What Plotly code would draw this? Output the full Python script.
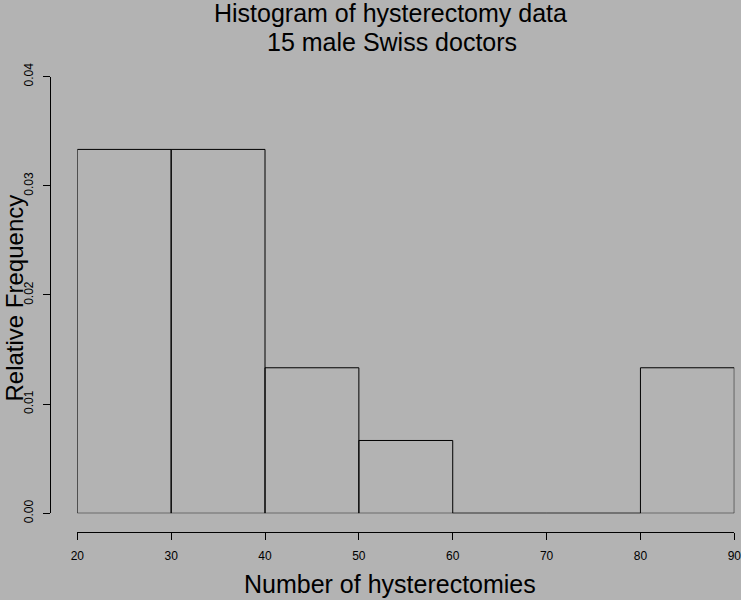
import plotly.graph_objects as go

# Data: histogram of hysterectomy counts (15 male Swiss doctors)
bin_edges = [20, 30, 40, 50, 60, 70, 80, 90]
rel_freq = [0.03333, 0.03333, 0.01333, 0.00667, 0.0, 0.0, 0.01333]
x_ticks = [20, 30, 40, 50, 60, 70, 80, 90]
y_ticks = [0.00, 0.01, 0.02, 0.03, 0.04]

title_line1 = "Histogram of hysterectomy data"
title_line2 = "15 male Swiss doctors"
x_title = "Number of hysterectomies"
y_title = "Relative Frequency"

W, H = 741, 600
BG = "#B3B3B3"
FONT = "Liberation Sans, Arial, Helvetica, sans-serif"

# build rectangle outlines from bins
xs, ys = [], []
for i, h in enumerate(rel_freq):
    l, r = bin_edges[i], bin_edges[i + 1]
    xs += [l, l, r, r, l, None]
    ys += [0, h, h, 0, 0, None]

fig = go.Figure()
fig.add_trace(go.Scatter(x=xs, y=ys, mode="lines",
                         line=dict(color="black", width=1),
                         hoverinfo="skip", showlegend=False,
                         cliponaxis=False))

# pixel geometry
x_left_px, x_right_px = 77.3, 734.3
y_top_px, y_bot_px = 76.6, 513.3
xaxis_line_px = 531.7
yaxis_line_px = 50.3

fig.update_layout(
    width=W, height=H,
    paper_bgcolor=BG, plot_bgcolor=BG,
    margin=dict(l=0, r=0, t=0, b=0, pad=0, autoexpand=False),
    showlegend=False,
    font=dict(family=FONT, color="black"),
    xaxis=dict(
        domain=[x_left_px / W, x_right_px / W],
        range=[bin_edges[0], bin_edges[-1]],
        anchor="free", position=(H - xaxis_line_px) / H,
        showline=True, linecolor="black", linewidth=1,
        ticks="outside", ticklen=7, tickwidth=1, tickcolor="black",
        tickvals=x_ticks, ticktext=[str(v) for v in x_ticks],
        tickfont=dict(size=12, family=FONT, color="black"),
        ticklabelstandoff=6, automargin=False, ticklabeloverflow="allow",
        showgrid=False, zeroline=False, fixedrange=True,
    ),
    yaxis=dict(
        domain=[(H - y_bot_px) / H, (H - y_top_px) / H],
        range=[y_ticks[0], y_ticks[-1]],
        anchor="free", position=yaxis_line_px / W,
        showline=True, linecolor="black", linewidth=1,
        ticks="outside", ticklen=7, tickwidth=1, tickcolor="black",
        tickvals=y_ticks, ticktext=["%.2f" % v for v in y_ticks],
        tickangle=-90,
        tickfont=dict(size=12, family=FONT, color="black"),
        ticklabelstandoff=6, automargin=False, ticklabeloverflow="allow",
        showgrid=False, zeroline=False, fixedrange=True,
    ),
    annotations=[
        dict(text=title_line1, x=390 / W, y=1 - 13 / H, xref="paper", yref="paper",
             xanchor="center", yanchor="middle", showarrow=False, borderpad=0,
             font=dict(size=25, family=FONT, color="black")),
        dict(text=title_line2, x=392 / W, y=1 - 42 / H, xref="paper", yref="paper",
             xanchor="center", yanchor="middle", showarrow=False, borderpad=0,
             font=dict(size=25, family=FONT, color="black")),
        dict(text=x_title, x=390 / W, y=1 - 584 / H, xref="paper", yref="paper",
             xanchor="center", yanchor="middle", showarrow=False, borderpad=0,
             font=dict(size=25, family=FONT, color="black")),
        dict(text=y_title, x=0, y=1 - 298 / H, xref="paper", yref="paper",
             xanchor="left", yanchor="middle", showarrow=False, textangle=-90,
             borderpad=0,
             font=dict(size=24, family=FONT, color="black")),
    ],
)

fig.write_html(
    "out.html",
    config={"responsive": False, "displayModeBar": False},
    post_script="document.body.style.margin='0';document.body.style.overflow='hidden';",
)
